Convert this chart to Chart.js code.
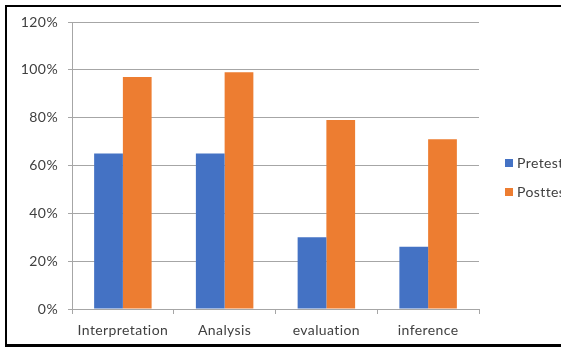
<!DOCTYPE html>
<html>
<head>
<meta charset="utf-8">
<script src="https://cdn.jsdelivr.net/npm/chart.js@4/dist/chart.umd.min.js"></script>
<style>
  html, body { margin: 0; padding: 0; background: #fff; overflow: hidden; }
  #wrap { position: relative; width: 561px; height: 347px; }
</style>
</head>
<body>
<div id="wrap"><canvas id="chart" width="561" height="347"></canvas></div>
<script>
// Skill categories and test scores (percent)
const categories = ['Interpretation', 'Analysis', 'evaluation', 'inference'];
const pretest = [65, 65, 30, 26];
const posttest = [97, 99, 79, 71];
const yTicks = { min: 0, max: 120, step: 20 };

const FONT = 'Lato, "Open Sans", sans-serif';
const FONT_SIZE = 14;
const TRACKING = '0.4px';
const TEXT = '#404040';
const GRID = '#a6a6a6';

// Slightly open letter spacing for all canvas text
const trackingPlugin = {
  id: 'tracking',
  beforeUpdate(chart) { chart.ctx.letterSpacing = TRACKING; },
  beforeDraw(chart) { chart.ctx.letterSpacing = TRACKING; }
};

// Frame around the figure and a right-hand legend
const framePlugin = {
  id: 'frame',
  afterDraw(chart) {
    const ctx = chart.ctx;
    ctx.save();
    ctx.fillStyle = '#000';
    ctx.fillRect(5, 5, 556, 2);
    ctx.fillRect(5, 5, 2, 342);
    ctx.fillRect(5, 344, 556, 3);

    const area = chart.chartArea;
    const x = area.right + 26;
    const ys = [area.top + 141, area.top + 170];
    ctx.font = FONT_SIZE + 'px ' + FONT;
    ctx.textBaseline = 'middle';
    chart.data.datasets.forEach((ds, i) => {
      ctx.fillStyle = ds.backgroundColor;
      ctx.fillRect(x, ys[i] - 4, 8, 8);
      ctx.fillStyle = TEXT;
      ctx.fillText(ds.label, x + 12, ys[i] + 0.5);
    });
    ctx.restore();
  }
};

new Chart(document.getElementById('chart'), {
  type: 'bar',
  data: {
    labels: categories,
    datasets: [
      { label: 'Pretest', data: pretest, backgroundColor: '#4472C4' },
      { label: 'Posttest', data: posttest, backgroundColor: '#ED7D31' }
    ]
  },
  options: {
    responsive: false,
    animation: false,
    devicePixelRatio: 1,
    datasets: { bar: { barPercentage: 1, categoryPercentage: 0.565 } },
    layout: { padding: { top: 22, right: 82, left: 0, bottom: 0 } },
    plugins: {
      legend: { display: false },
      tooltip: { enabled: false }
    },
    scales: {
      x: {
        grid: { drawOnChartArea: false, drawTicks: true, tickLength: 5, color: GRID, offset: true },
        border: { color: GRID, width: 1 },
        ticks: { color: TEXT, font: { family: FONT, size: FONT_SIZE }, padding: 8, maxRotation: 0 },
        afterFit(scale) { scale.height = 38; }
      },
      y: {
        min: yTicks.min,
        max: yTicks.max,
        grid: { color: GRID, tickLength: 4, drawTicks: true },
        border: { color: GRID, width: 1 },
        ticks: {
          stepSize: yTicks.step,
          color: TEXT,
          font: { family: FONT, size: FONT_SIZE },
          padding: 10,
          callback: v => v + '%'
        },
        afterFit(scale) { scale.width = 72; }
      }
    }
  },
  plugins: [trackingPlugin, framePlugin]
});
</script>
</body>
</html>
